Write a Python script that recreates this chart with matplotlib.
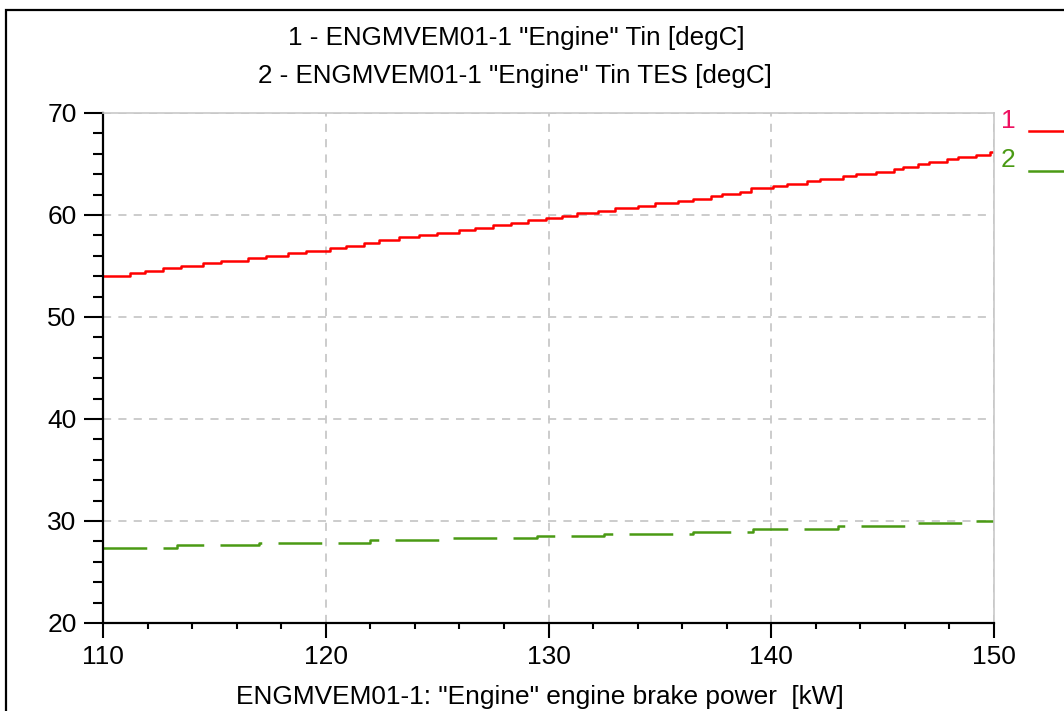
import matplotlib
matplotlib.use("Agg")
import matplotlib.pyplot as plt
from matplotlib.patches import Rectangle
from matplotlib.ticker import MultipleLocator
from matplotlib import font_manager

# engine brake power [kW] where each series steps, and the value it steps to
red_kw = [110.0, 111.2, 111.9, 112.7, 113.5, 114.5, 115.3, 116.5, 117.3, 118.3,
          119.1, 120.2, 120.9, 121.7, 122.4, 123.3, 124.2, 125.0, 126.0, 126.7,
          127.5, 128.3, 129.1, 129.9, 130.6, 131.3, 132.2, 133.0, 134.0, 134.8,
          135.8, 136.5, 137.3, 137.8, 138.6, 139.1, 140.1, 140.7, 141.6, 142.2,
          143.2, 143.8, 144.7, 145.5, 145.9, 146.6, 147.1, 147.9, 148.4, 149.2,
          149.8, 150.0]
tin = [54.0, 54.3, 54.5, 54.8, 55.0, 55.3, 55.5, 55.8, 56.0, 56.3,
       56.5, 56.8, 57.0, 57.3, 57.5, 57.8, 58.0, 58.2, 58.5, 58.7,
       59.0, 59.2, 59.5, 59.7, 59.9, 60.2, 60.4, 60.7, 60.9, 61.2,
       61.4, 61.6, 61.9, 62.1, 62.3, 62.6, 62.8, 63.0, 63.3, 63.5,
       63.8, 64.0, 64.2, 64.5, 64.7, 65.0, 65.2, 65.5, 65.7, 65.9,
       66.2, 66.2]

green_kw = [110.0, 113.3, 117.0, 122.0, 125.5, 129.5, 132.5, 136.5, 139.2,
            143.0, 146.0, 148.6, 150.0]
tin_tes = [27.4, 27.6, 27.8, 28.1, 28.3, 28.5, 28.7, 28.9, 29.2,
           29.5, 29.8, 30.0, 30.0]

titles = ['1 - ENGMVEM01-1 "Engine" Tin [degC]',
          '2 - ENGMVEM01-1 "Engine" Tin TES [degC]']
xlabel = 'ENGMVEM01-1: "Engine" engine brake power  [kW]'

RED, GREEN, GRID = "#ff0000", "#4a9a14", "#c8c8c8"

names = {f.name for f in font_manager.fontManager.ttflist}
FONT = "Liberation Sans Narrow" if "Liberation Sans Narrow" in names else "Liberation Sans"
plt.rcParams["font.family"] = [FONT, "DejaVu Sans"]

W, H = 1064, 711
fig = plt.figure(figsize=(W / 100, H / 100), dpi=100, facecolor="white")

# window frame (runs off the right and bottom of the capture)
fig.patches.append(Rectangle((6 / W, -0.1), 1.2, 1 - 10 / H + 0.1,
                             transform=fig.transFigure, fill=False,
                             edgecolor="black", linewidth=1.6))

ax = fig.add_axes([103 / W, 1 - 623 / H, 891 / W, 510 / H])
ax.step(red_kw, tin, where="post", color=RED, linewidth=1.8)
ax.step(green_kw, tin_tes, where="post", color=GREEN, linewidth=1.8,
        dashes=(17.5, 6.5))

ax.set_xlim(110, 150)
ax.set_ylim(20, 70)
ax.xaxis.set_major_locator(MultipleLocator(10))
ax.xaxis.set_minor_locator(MultipleLocator(2))
ax.yaxis.set_major_locator(MultipleLocator(10))
ax.yaxis.set_minor_locator(MultipleLocator(2))

ax.grid(True, which="major", color=GRID, linewidth=1.3, linestyle=(0, (4.5, 4)))
for s in ("left", "bottom"):
    ax.spines[s].set_color("black")
    ax.spines[s].set_linewidth(1.6)
for s in ("top", "right"):
    ax.spines[s].set_color(GRID)
    ax.spines[s].set_linewidth(1.2)

ax.tick_params(axis="y", which="major", length=14, width=1.5, pad=5, labelsize=19)
ax.tick_params(axis="y", which="minor", length=7, width=1.5)
ax.tick_params(axis="x", which="major", length=11, width=1.5, pad=5, labelsize=19)
ax.tick_params(axis="x", which="minor", length=4.5, width=1.5)

fig.text(516 / W, 1 - 38 / H, titles[0], ha="center", va="center", fontsize=18.7)
fig.text(515 / W, 1 - 76 / H, titles[1], ha="center", va="center", fontsize=18.7)
fig.text(540 / W, 1 - 697 / H, xlabel, ha="center", va="center", fontsize=18.9)

# series key on the right
fig.text(1008 / W, 1 - 121 / H, "1", ha="center", va="center", fontsize=19, color="#ee1060")
fig.text(1008 / W, 1 - 160 / H, "2", ha="center", va="center", fontsize=19, color=GREEN)
fig.lines.append(plt.Line2D([1029 / W, 1.0], [1 - 131 / H] * 2, transform=fig.transFigure,
                            color=RED, linewidth=1.8))
fig.lines.append(plt.Line2D([1029 / W, 1.0], [1 - 171 / H] * 2, transform=fig.transFigure,
                            color=GREEN, linewidth=1.8))

fig.savefig("out.png", dpi=100, facecolor="white")
